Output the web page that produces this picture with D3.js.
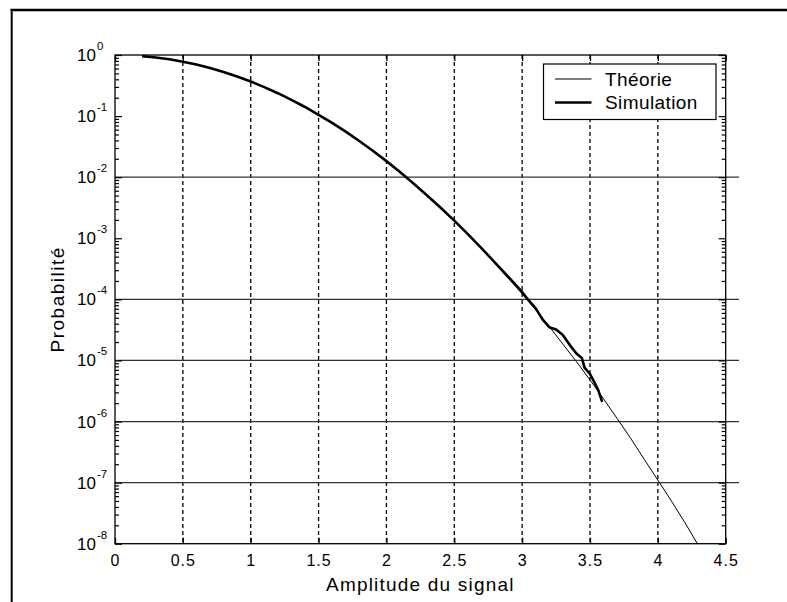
<!DOCTYPE html>
<html>
<head>
<meta charset="utf-8">
<script src="https://cdn.jsdelivr.net/npm/d3@7"></script>
<style>
  body { margin: 0; background: #fff; }
  text { font-family: "Liberation Sans", Arial, sans-serif; fill: #000; }
</style>
</head>
<body>
<script>
// Donnees
var amplitudes = [0.2, 0.3, 0.4, 0.5, 0.6, 0.7, 0.8, 0.9, 1.0, 1.1, 1.2, 1.3, 1.4, 1.5, 1.6, 1.7, 1.8, 1.9,
                  2.0, 2.1, 2.2, 2.3, 2.4, 2.5, 2.6, 2.7, 2.8, 2.9, 3.0, 3.1, 3.2, 3.3, 3.4, 3.5, 3.6, 3.7,
                  3.8, 3.9, 4.0, 4.1, 4.2, 4.3, 4.4];
var theorie = [0.961, 0.914, 0.852, 0.779, 0.698, 0.613, 0.527, 0.445, 0.368, 0.298, 0.237, 0.185, 0.141,
               0.105, 0.0773, 0.0556, 0.0392, 0.0271, 0.0183, 0.0122, 0.0079, 0.0050, 0.00315, 0.00193,
               0.00116, 6.8e-4, 3.9e-4, 2.2e-4, 1.23e-4, 6.7e-5, 3.6e-5, 1.85e-5, 9.6e-6, 4.8e-6, 2.35e-6,
               1.12e-6, 5.3e-7, 2.4e-7, 1.1e-7, 5.0e-8, 2.2e-8, 9.3e-9, 3.9e-9];

var simAmplitudes = [0.2, 0.3, 0.4, 0.5, 0.6, 0.7, 0.8, 0.9, 1.0, 1.1, 1.2, 1.3, 1.4, 1.5, 1.6, 1.7, 1.8, 1.9,
                     2.0, 2.1, 2.2, 2.3, 2.4, 2.5, 2.6, 2.7, 2.8, 2.9, 3.0, 3.05, 3.1, 3.15, 3.2, 3.25, 3.3,
                     3.35, 3.4, 3.44, 3.46, 3.5, 3.53, 3.56, 3.59];
var simulation = [0.958, 0.912, 0.851, 0.778, 0.697, 0.612, 0.527, 0.445, 0.368, 0.298, 0.237, 0.184, 0.141,
                  0.105, 0.0772, 0.0556, 0.0391, 0.0271, 0.0183, 0.0122, 0.0079, 0.00502, 0.00316, 0.00194,
                  0.00117, 6.9e-4, 4.0e-4, 2.3e-4, 1.32e-4, 9.5e-5, 7.1e-5, 4.7e-5, 3.5e-5, 3.2e-5, 2.6e-5,
                  1.8e-5, 1.3e-5, 1.1e-5, 7.6e-6, 6.0e-6, 4.5e-6, 3.3e-6, 2.1e-6];

var xTicks = [0, 0.5, 1, 1.5, 2, 2.5, 3, 3.5, 4, 4.5];
var xTickLabels = ["0", "0.5", "1", "1.5", "2", "2.5", "3", "3.5", "4", "4.5"];
var yExposants = [0, -1, -2, -3, -4, -5, -6, -7, -8];
var grilleH = [-2, -4, -5, -6, -7];
var grilleV = [0.5, 1, 1.5, 2, 2.5, 3, 3.5, 4];
var legende = ["Théorie", "Simulation"];

// Dimensions
var W = 787, H = 602;
var plot = {left: 115, top: 55, right: 725.7, bottom: 543.7};

var xScale = d3.scaleLinear().domain([0, 4.5]).range([plot.left, plot.right]);
var yScale = d3.scaleLog().domain([1e-8, 1]).range([plot.bottom, plot.top]);

var svg = d3.select("body").append("svg")
  .attr("width", W)
  .attr("height", H);

// Cadre exterieur (haut et gauche)
svg.append("line").attr("x1", 10.5).attr("x2", W).attr("y1", 10).attr("y2", 10)
  .attr("stroke", "#000").attr("stroke-width", 2.5);
svg.append("line").attr("x1", 11.7).attr("x2", 11.7).attr("y1", 9).attr("y2", H)
  .attr("stroke", "#000").attr("stroke-width", 2);

svg.append("clipPath").attr("id", "clip")
  .append("rect")
  .attr("x", plot.left).attr("y", plot.top)
  .attr("width", plot.right - plot.left).attr("height", plot.bottom - plot.top);

// Grille verticale pointillee
svg.selectAll(".gv")
  .data(grilleV)
  .enter()
  .append("line")
  .attr("class", "gv")
  .attr("x1", function(d){ return xScale(d); })
  .attr("x2", function(d){ return xScale(d); })
  .attr("y1", plot.top)
  .attr("y2", plot.bottom)
  .attr("stroke", "#000")
  .attr("stroke-width", 1.3)
  .attr("stroke-dasharray", "4,3");

// Grille horizontale pleine
svg.selectAll(".gh")
  .data(grilleH)
  .enter()
  .append("line")
  .attr("class", "gh")
  .attr("x1", plot.left)
  .attr("x2", 739)
  .attr("y1", function(d){ return yScale(Math.pow(10, d)); })
  .attr("y2", function(d){ return yScale(Math.pow(10, d)); })
  .attr("stroke", "#333")
  .attr("stroke-width", 1.3);

// Cadre des axes
svg.append("rect")
  .attr("x", plot.left).attr("y", plot.top)
  .attr("width", plot.right - plot.left).attr("height", plot.bottom - plot.top)
  .attr("fill", "none").attr("stroke", "#000").attr("stroke-width", 1.3);

// Graduations y (majeures et mineures, gauche et droite)
var yTicksMin = [];
for (var e = -8; e < 0; e++) {
  for (var m = 2; m <= 9; m++) yTicksMin.push(m * Math.pow(10, e));
}
var yTicksMaj = yExposants.map(function(d){ return Math.pow(10, d); });
var axeGauche = d3.axisRight(yScale).tickValues(yTicksMin).tickSize(4).tickFormat("");
var axeDroite = d3.axisLeft(yScale).tickValues(yTicksMin).tickSize(4).tickFormat("");
var majG = d3.axisRight(yScale).tickValues(yTicksMaj).tickSize(7).tickFormat("");
var majD = d3.axisLeft(yScale).tickValues(yTicksMaj).tickSize(7).tickFormat("");
[[axeGauche, plot.left], [majG, plot.left], [axeDroite, plot.right], [majD, plot.right]].forEach(function(a){
  var g = svg.append("g").attr("transform", "translate(" + a[1] + ",0)").call(a[0]);
  g.select(".domain").remove();
  g.selectAll("line").attr("stroke", "#000").attr("stroke-width", 1.2);
});

// Graduations x (bas et haut)
var xBas = d3.axisTop(xScale).tickValues(xTicks).tickSize(6).tickFormat("");
var xHaut = d3.axisBottom(xScale).tickValues(xTicks).tickSize(6).tickFormat("");
[[xBas, plot.bottom], [xHaut, plot.top]].forEach(function(a){
  var g = svg.append("g").attr("transform", "translate(0," + a[1] + ")").call(a[0]);
  g.select(".domain").remove();
  g.selectAll("line").attr("stroke", "#000").attr("stroke-width", 1.3);
});

// Etiquettes x
svg.selectAll(".xl")
  .data(xTicks)
  .enter()
  .append("text")
  .attr("class", "xl")
  .attr("x", function(d){ return xScale(d) + 0.5; })
  .attr("y", plot.bottom + 22)
  .attr("text-anchor", "middle")
  .attr("font-size", "16px")
  .attr("letter-spacing", "1px")
  .text(function(d, i){ return xTickLabels[i]; });

// Etiquettes y (10 puissance)
var yl = svg.selectAll(".yl")
  .data(yExposants)
  .enter()
  .append("g")
  .attr("class", "yl")
  .attr("transform", function(d){ return "translate(0," + yScale(Math.pow(10, d)) + ")"; });
yl.append("text")
  .attr("x", 96)
  .attr("y", 6)
  .attr("text-anchor", "end")
  .attr("font-size", "17px")
  .text("10");
yl.append("text")
  .attr("x", 97)
  .attr("y", -5)
  .attr("font-size", "11.5px")
  .text(function(d){ return d === 0 ? "0" : "-" + (-d); });

// Titres des axes
svg.append("text")
  .attr("x", (plot.left + plot.right) / 2)
  .attr("y", 591)
  .attr("text-anchor", "middle")
  .attr("font-size", "19px")
  .attr("letter-spacing", "1.2px")
  .text("Amplitude du signal");
svg.append("text")
  .attr("transform", "translate(64," + (plot.top + plot.bottom) / 2 + ") rotate(-90)")
  .attr("text-anchor", "middle")
  .attr("font-size", "19px")
  .attr("letter-spacing", "1.5px")
  .text("Probabilité");

// Courbes
var ligne = d3.line()
  .x(function(d){ return xScale(d[0]); })
  .y(function(d){ return yScale(d[1]); });

var dataTheorie = amplitudes.map(function(a, i){ return [a, theorie[i]]; });
var dataSim = simAmplitudes.map(function(a, i){ return [a, simulation[i]]; });

svg.append("path")
  .datum(dataSim)
  .attr("clip-path", "url(#clip)")
  .attr("fill", "none")
  .attr("stroke", "#000")
  .attr("stroke-width", 2.6)
  .attr("stroke-linejoin", "round")
  .attr("d", ligne);
svg.append("path")
  .datum(dataTheorie)
  .attr("clip-path", "url(#clip)")
  .attr("fill", "none")
  .attr("stroke", "#000")
  .attr("stroke-width", 1)
  .attr("d", ligne);

// Legende
var leg = svg.append("g").attr("transform", "translate(543.5,64)");
leg.append("rect")
  .attr("width", 172.5).attr("height", 55.5)
  .attr("fill", "#fff").attr("stroke", "#000").attr("stroke-width", 1.2);
leg.selectAll(".li")
  .data(legende)
  .enter()
  .append("line")
  .attr("x1", 11.5).attr("x2", 48)
  .attr("y1", function(d, i){ return 15 + i * 23.5; })
  .attr("y2", function(d, i){ return 15 + i * 23.5; })
  .attr("stroke", "#000")
  .attr("stroke-width", function(d, i){ return i === 0 ? 1 : 2.6; });
leg.selectAll(".lt")
  .data(legende)
  .enter()
  .append("text")
  .attr("x", 61.5)
  .attr("y", function(d, i){ return 22 + i * 23.3; })
  .attr("font-size", "19px")
  .attr("letter-spacing", "0.4px")
  .text(function(d){ return d; });
</script>
</body>
</html>
